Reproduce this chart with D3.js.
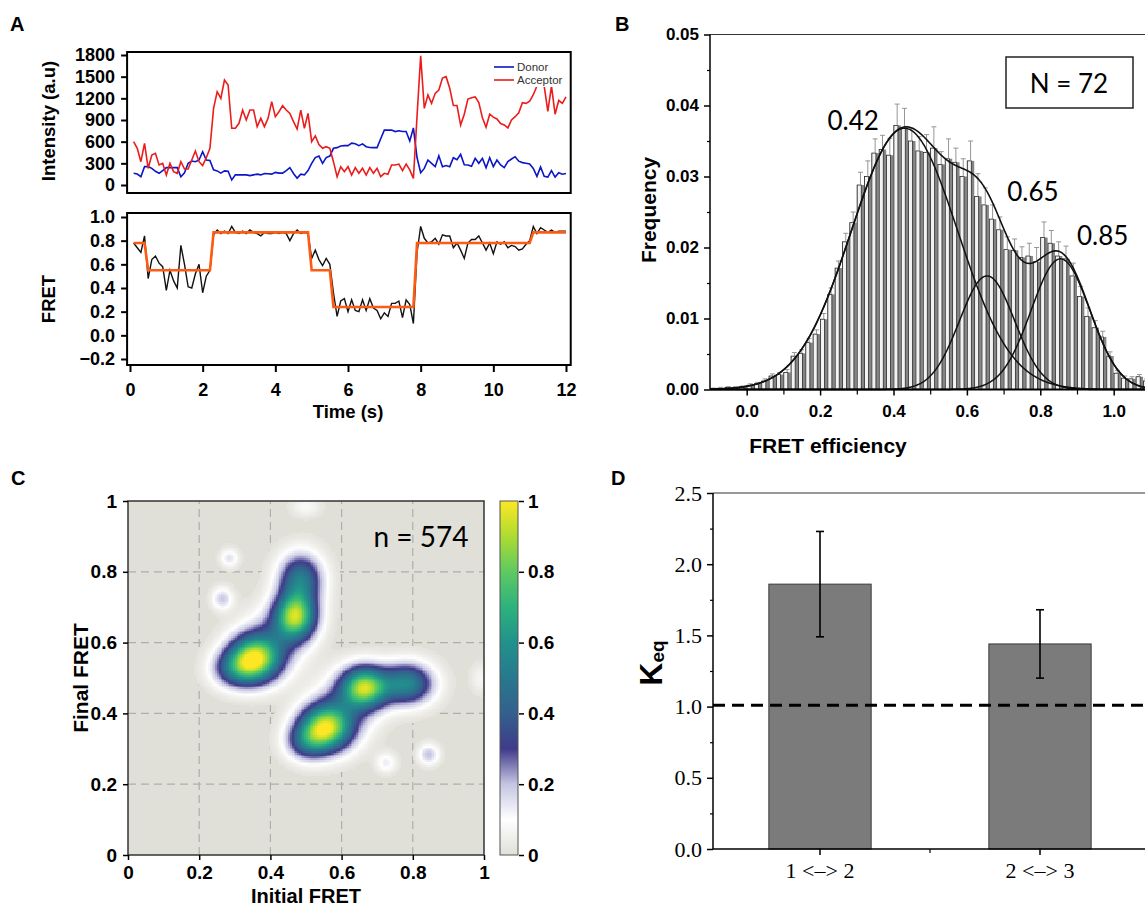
<!DOCTYPE html>
<html>
<head>
<meta charset="utf-8">
<script src="https://cdn.jsdelivr.net/npm/d3@7"></script>
<style>
  body { margin: 0; background: #fff; }
  svg { display: block; }
</style>
</head>
<body>
<svg id="fig" width="1145" height="910"></svg>
<script>
// ---------- A: single-molecule trace, 0.1 s frames
var frameTimes = d3.range(1, 121).map(function (k) { return k / 10; });
var donor = [
  162, 152, 115, 254, 254, 230, 190, 162, 200, 240,
  240, 240, 240, 115, 170, 300, 332, 323, 346, 460,
  346, 340, 210, 195, 165, 195, 190, 70, 140, 140,
  140, 140, 130, 140, 150, 140, 160, 155, 150, 175,
  165, 165, 200, 240, 160, 95, 150, 140, 200, 300,
  380, 400, 300, 380, 400, 508, 517, 540, 545, 545,
  580, 570, 545, 570, 530, 520, 517, 517, 640, 760,
  760, 760, 740, 750, 740, 740, 610, 790, 380, 170,
  230, 346, 300, 254, 406, 254, 270, 254, 378, 350,
  424, 280, 277, 260, 369, 300, 369, 240, 378, 254,
  346, 277, 240, 323, 360, 392, 330, 310, 300, 290,
  230, 120, 250, 120, 110, 200, 110, 170, 150, 160
];
var acceptor = [
  600, 508, 323, 577, 231, 415, 438, 277, 300, 138,
  300, 185, 162, 323, 221, 221, 346, 471, 323, 268,
  378, 508, 1061, 1292, 1200, 1454, 1385, 785, 785, 854,
  1038, 900, 1038, 1038, 808, 923, 808, 923, 1154, 946,
  1015, 1098, 1038, 992, 877, 775, 1038, 785, 992, 600,
  680, 560, 508, 531, 508, 323, 115, 254, 185, 254,
  138, 240, 162, 231, 138, 240, 162, 231, 115, 162,
  148, 277, 277, 290, 200, 290, 210, 92, 950, 1790,
  1061, 1246, 1131, 1269, 1315, 1480, 1500, 1340, 1100, 1100,
  830, 980, 1190, 1209, 1220, 1140, 930, 800, 980, 940,
  915, 850, 831, 790, 900, 946, 1000, 1140, 1130, 1160,
  1250, 1370, 1400, 1370, 1020, 1370, 980, 1170, 1130, 1220
];
var fret = [
  0.78, 0.74, 0.70, 0.84, 0.48, 0.64, 0.67, 0.61, 0.58, 0.38,
  0.55, 0.46, 0.40, 0.76, 0.60, 0.41, 0.40, 0.52, 0.60, 0.36,
  0.50, 0.55, 0.85, 0.89, 0.86, 0.88, 0.86, 0.92, 0.87, 0.86,
  0.88, 0.86, 0.89, 0.87, 0.86, 0.84, 0.87, 0.86, 0.86, 0.87,
  0.86, 0.87, 0.86, 0.80, 0.86, 0.89, 0.86, 0.87, 0.86, 0.65,
  0.72, 0.64, 0.59, 0.65, 0.60, 0.36, 0.16, 0.29, 0.31, 0.20,
  0.30, 0.21, 0.20, 0.30, 0.21, 0.31, 0.23, 0.21, 0.14, 0.19,
  0.16, 0.27, 0.27, 0.29, 0.15, 0.30, 0.26, 0.10, 0.70, 0.92,
  0.82, 0.78, 0.79, 0.82, 0.77, 0.85, 0.84, 0.84, 0.74, 0.78,
  0.72, 0.65, 0.78, 0.81, 0.81, 0.84, 0.78, 0.72, 0.78, 0.69,
  0.79, 0.77, 0.79, 0.74, 0.76, 0.75, 0.72, 0.73, 0.77, 0.80,
  0.92, 0.86, 0.91, 0.89, 0.87, 0.89, 0.87, 0.88, 0.88, 0.88
];
var fitTimes = [0.1, 0.4, 0.5, 2.2, 2.3, 4.9, 5.0, 5.5, 5.6, 7.8, 7.9, 11.0, 11.1, 12.0];
var fitValues = [0.78, 0.78, 0.55, 0.55, 0.87, 0.87, 0.55, 0.55, 0.24, 0.24, 0.78, 0.78, 0.87, 0.87];
var intensityTicks = [0, 300, 600, 900, 1200, 1500, 1800];
var fretTicks = [-0.2, 0, 0.2, 0.4, 0.6, 0.8, 1.0];
var timeTicks = [0, 2, 4, 6, 8, 10, 12];

// ---------- B: FRET efficiency histogram
var binStart = -0.1, binWidth = 0.02;
var histFreq = [
  0.0001, 0.0002, 0.0003, 0.0003, 0.0004, 0.0006, 0.0008, 0.0012, 0.0019, 0.0021,
  0.0024, 0.0047, 0.0051, 0.0066, 0.0078, 0.0099, 0.0134, 0.0171, 0.0208, 0.0235,
  0.0288, 0.0300, 0.0333, 0.0338, 0.0330, 0.0372, 0.0368, 0.0350, 0.0336, 0.0334,
  0.0340, 0.0317, 0.0325, 0.0320, 0.0300, 0.0322, 0.0272, 0.0260, 0.0240, 0.0225,
  0.0197, 0.0196, 0.0186, 0.0188, 0.0180, 0.0214, 0.0206, 0.0188, 0.0184, 0.0160,
  0.0131, 0.0103, 0.0087, 0.0074, 0.0047, 0.0023, 0.0016, 0.0015, 0.0018, 0.0012
];
var histErr = [
  0.0001, 0.0001, 0.0001, 0.0001, 0.0001, 0.0002, 0.0002, 0.0003, 0.0003, 0.0003,
  0.0004, 0.0005, 0.0005, 0.0006, 0.0006, 0.0008, 0.0009, 0.0010, 0.0012, 0.0015,
  0.0018, 0.0022, 0.0020, 0.0020, 0.0024, 0.0030, 0.0028, 0.0018, 0.0020, 0.0025,
  0.0030, 0.0018, 0.0028, 0.0020, 0.0025, 0.0028, 0.0032, 0.0024, 0.0020, 0.0018,
  0.0018, 0.0016, 0.0015, 0.0018, 0.0020, 0.0022, 0.0018, 0.0020, 0.0018, 0.0018,
  0.0014, 0.0012, 0.0010, 0.0008, 0.0006, 0.0004, 0.0003, 0.0003, 0.0003, 0.0003
];
var peakCenters = [0.43, 0.655, 0.855];
var peakHeights = [0.0368, 0.016, 0.0184];
var peakWidths = [0.145, 0.075, 0.08];
var peakLabels = ["0.42", "0.65", "0.85"];
var peakLabelX = [0.29, 0.78, 0.97];
var peakLabelY = [0.0365, 0.0265, 0.0203];
var freqTicks = [0, 0.01, 0.02, 0.03, 0.04, 0.05];
var effTicks = [0, 0.2, 0.4, 0.6, 0.8, 1.0];

// ---------- C: transition density plot (peaks of the smoothed map)
var tdpX   = [0.355, 0.47, 0.41, 0.485, 0.30, 0.555, 0.665, 0.61, 0.785, 0.50, 0.265, 0.285, 0.845, 0.725, 0.50, 0.99];
var tdpY   = [0.555, 0.675, 0.61, 0.78, 0.525, 0.36, 0.475, 0.42, 0.485, 0.32, 0.725, 0.84, 0.285, 0.262, 0.985, 0.50];
var tdpAmp = [0.90, 0.85, 0.20, 0.50, 0.32, 0.90, 0.85, 0.20, 0.55, 0.32, 0.19, 0.15, 0.20, 0.13, 0.08, 0.07];
var tdpSx  = [0.05, 0.04, 0.06, 0.042, 0.045, 0.05, 0.045, 0.06, 0.05, 0.04, 0.02, 0.018, 0.02, 0.02, 0.03, 0.02];
var tdpSy  = [0.045, 0.045, 0.06, 0.05, 0.035, 0.045, 0.04, 0.06, 0.04, 0.035, 0.022, 0.018, 0.02, 0.02, 0.02, 0.03];
var cbValues = [0, 0.1, 0.2, 0.3, 0.4, 0.5, 0.6, 0.7, 0.8, 0.9, 1.0];
var cbColors = ["#e0dfd8", "#ffffff", "#c5c5e2", "#403a8a", "#33608d", "#28788e", "#21918c", "#2db27d", "#5ec962", "#addc30", "#fde725"];
var tdpTicks = [0, 0.2, 0.4, 0.6, 0.8, 1];
var tdpCount = "n = 574";

// ---------- D: equilibrium constants
var keqLabels = ["1 <–> 2", "2 <–> 3"];
var keqMeans = [1.86, 1.44];
var keqLow = [1.49, 1.20];
var keqHigh = [2.23, 1.68];
var keqRef = 1.01;
var keqTicks = [0, 0.5, 1.0, 1.5, 2.0, 2.5];

var svg = d3.select("#fig");
var sans = "Arial, 'Liberation Sans', Helvetica, sans-serif";
var serif = "'Times New Roman', 'Liberation Serif', serif";
var calib = "Lato, 'Open Sans', sans-serif";

function tidyAxis(g, size, family, weight, width) {
  g.attr("font-size", size).attr("font-family", family).attr("font-weight", weight);
  g.select(".domain").remove();
  g.selectAll(".tick line").attr("stroke", "#000").attr("stroke-width", width);
  g.selectAll(".tick text").attr("fill", "#000");
}
function title(g, txt, x, y, size, rot) {
  return g.append("text")
    .attr("transform", "translate(" + x + "," + y + ")" + (rot ? " rotate(-90)" : ""))
    .attr("text-anchor", "middle").attr("font-family", sans).attr("font-weight", "bold")
    .attr("font-size", size).text(txt);
}

svg.selectAll("text.plabel")
  .data([["A", 10, 31], ["B", 615, 31], ["C", 11, 485], ["D", 611, 485]])
  .enter().append("text").attr("class", "plabel")
  .attr("x", function (d) { return d[1]; }).attr("y", function (d) { return d[2]; })
  .attr("font-family", sans).attr("font-weight", "bold").attr("font-size", 20)
  .text(function (d) { return d[0]; });

// ================= Panel A =================
var tA = d3.scaleLinear().domain([0, 12]).range([130, 566]);
var yI = d3.scaleLinear().domain([0, 1800]).range([185, 55]);
var yF = d3.scaleLinear().domain([-0.2, 1.0]).range([359, 217]);
var boxL = tA(-0.08), boxR = tA(12.13);
var gA = svg.append("g");

gA.append("g").attr("transform", "translate(" + boxL + ",0)")
  .call(d3.axisLeft(yI).tickValues(intensityTicks).tickFormat(d3.format("d")).tickSize(6).tickPadding(6))
  .call(tidyAxis, 18, sans, "bold", 2);

var lineI = d3.line()
  .x(function (d, i) { return tA(frameTimes[i]); })
  .y(function (d) { return yI(d); });
gA.append("path").datum(donor).attr("d", lineI)
  .attr("fill", "none").attr("stroke", "#0a16c8").attr("stroke-width", 1.6);
gA.append("path").datum(acceptor).attr("d", lineI)
  .attr("fill", "none").attr("stroke", "#ec1c1c").attr("stroke-width", 1.6);

// legend
var legA = gA.append("g");
legA.append("rect").attr("x", 491).attr("y", 60).attr("width", 70).attr("height", 27).attr("fill", "#fff");
[["Donor", "#0a16c8", 67], ["Acceptor", "#ec1c1c", 80]].forEach(function (d) {
  legA.append("line").attr("x1", 494).attr("x2", 514).attr("y1", d[2]).attr("y2", d[2])
    .attr("stroke", d[1]).attr("stroke-width", 1.6);
  legA.append("text").attr("x", 517).attr("y", d[2]).attr("dy", "0.35em")
    .attr("font-family", sans).attr("font-size", 11.5).attr("fill", "#333").text(d[0]);
});
gA.append("rect").attr("x", boxL).attr("y", 52).attr("width", boxR - boxL).attr("height", 141)
  .attr("fill", "none").attr("stroke", "#000").attr("stroke-width", 2);
title(gA, "Intensity (a.u)", 55, 121, 18.5, true);

// FRET trace
gA.append("g").attr("transform", "translate(" + boxL + ",0)")
  .call(d3.axisLeft(yF).tickValues(fretTicks).tickFormat(d3.format(".1f")).tickSize(6).tickPadding(6))
  .call(tidyAxis, 18, sans, "bold", 2);
gA.append("g").attr("transform", "translate(0,365)")
  .call(d3.axisBottom(tA).tickValues(timeTicks).tickSize(7).tickPadding(11))
  .call(tidyAxis, 18, sans, "bold", 2);

var lineF = d3.line()
  .x(function (d, i) { return tA(frameTimes[i]); })
  .y(function (d) { return yF(d); });
gA.append("path").datum(fret).attr("d", lineF)
  .attr("fill", "none").attr("stroke", "#111").attr("stroke-width", 1.4);
var lineFit = d3.line()
  .x(function (d, i) { return tA(fitTimes[i]); })
  .y(function (d) { return yF(d); });
gA.append("path").datum(fitValues).attr("d", lineFit)
  .attr("fill", "none").attr("stroke", "#ff5a12").attr("stroke-width", 2.6);
gA.append("rect").attr("x", boxL).attr("y", 213).attr("width", boxR - boxL).attr("height", 152)
  .attr("fill", "none").attr("stroke", "#000").attr("stroke-width", 2);
title(gA, "FRET", 55, 299, 18.5, true);
title(gA, "Time (s)", tA(6), 418, 18.5, false);

// ================= Panel B =================
var xB = d3.scaleLinear().domain([0, 1]).range([746.7, 1113.7]);
var yB = d3.scaleLinear().domain([0, 0.05]).range([389.5, 34.5]);
var gB = svg.append("g");
var bins = histFreq.map(function (f, i) {
  return { x0: binStart + i * binWidth, f: f, e: histErr[i] };
});
var bw = xB(binWidth) - xB(0);

gB.selectAll("rect.dark").data(bins).enter().append("rect")
  .attr("x", function (d) { return xB(d.x0); })
  .attr("y", function (d) { return yB(d.f); })
  .attr("width", bw)
  .attr("height", function (d) { return yB(0) - yB(d.f); })
  .attr("fill", "#858585");
gB.selectAll("rect.light").data(bins).enter().append("rect")
  .attr("x", function (d) { return xB(d.x0) + 0.4; })
  .attr("y", function (d) { return yB(d.f); })
  .attr("width", bw * 0.55)
  .attr("height", function (d) { return yB(0) - yB(d.f); })
  .attr("fill", "#f2f2f2").attr("stroke", "#2a2a2a").attr("stroke-width", 0.8);
var errG = gB.selectAll("g.err").data(bins).enter().append("g")
  .attr("stroke", "#8a8a8a").attr("stroke-width", 0.9);
errG.append("line")
  .attr("x1", function (d) { return xB(d.x0 + binWidth / 2); })
  .attr("x2", function (d) { return xB(d.x0 + binWidth / 2); })
  .attr("y1", function (d) { return yB(d.f); })
  .attr("y2", function (d) { return yB(d.f + d.e); });
errG.append("line")
  .attr("x1", function (d) { return xB(d.x0 + binWidth / 2) - 2.5; })
  .attr("x2", function (d) { return xB(d.x0 + binWidth / 2) + 2.5; })
  .attr("y1", function (d) { return yB(d.f + d.e); })
  .attr("y2", function (d) { return yB(d.f + d.e); });

// Gaussian fit components and their sum
var fitX = d3.range(-0.1, 1.101, 0.002);
function gauss(k, x) {
  var z = (x - peakCenters[k]) / peakWidths[k];
  return peakHeights[k] * Math.exp(-0.5 * z * z);
}
var curveB = d3.line().x(function (d) { return xB(d[0]); }).y(function (d) { return yB(d[1]); });
peakCenters.forEach(function (c, k) {
  gB.append("path").datum(fitX.map(function (x) { return [x, gauss(k, x)]; }))
    .attr("d", curveB).attr("fill", "none").attr("stroke", "#111").attr("stroke-width", 1.5);
});
gB.append("path").datum(fitX.map(function (x) {
    return [x, gauss(0, x) + gauss(1, x) + gauss(2, x)];
  }))
  .attr("d", curveB).attr("fill", "none").attr("stroke", "#111").attr("stroke-width", 1.6);

// axes
gB.append("line").attr("x1", xB(-0.1)).attr("x2", 1145).attr("y1", yB(0.05)).attr("y2", yB(0.05))
  .attr("stroke", "#333").attr("stroke-width", 1.2);
gB.append("line").attr("x1", xB(-0.1)).attr("x2", xB(-0.1)).attr("y1", yB(0.05)).attr("y2", yB(0))
  .attr("stroke", "#000").attr("stroke-width", 1.5);
gB.append("line").attr("x1", xB(-0.1)).attr("x2", 1145).attr("y1", yB(0)).attr("y2", yB(0))
  .attr("stroke", "#000").attr("stroke-width", 1.8);
gB.append("g").attr("transform", "translate(" + xB(-0.1) + ",0)")
  .call(d3.axisLeft(yB).tickValues(freqTicks).tickFormat(d3.format(".2f")).tickSize(6).tickPadding(5))
  .call(tidyAxis, 17, sans, "bold", 1.5);
gB.append("g").attr("transform", "translate(" + xB(-0.1) + ",0)")
  .call(d3.axisLeft(yB).tickValues([0.005, 0.015, 0.025, 0.035, 0.045]).tickFormat("").tickSize(3))
  .call(tidyAxis, 17, sans, "bold", 1.2);
gB.append("g").attr("transform", "translate(0," + yB(0) + ")")
  .call(d3.axisBottom(xB).tickValues(effTicks).tickFormat(d3.format(".1f")).tickSize(6).tickPadding(9))
  .call(tidyAxis, 17, sans, "bold", 1.5);
gB.append("g").attr("transform", "translate(0," + yB(0) + ")")
  .call(d3.axisBottom(xB).tickValues([0.1, 0.3, 0.5, 0.7, 0.9]).tickFormat("").tickSize(5))
  .call(tidyAxis, 17, sans, "bold", 1.2);

title(gB, "Frequency", 656, 210, 21, true);
title(gB, "FRET efficiency", 828, 453, 21, false);

gB.selectAll("text.peak").data(peakLabels).enter().append("text")
  .attr("x", function (d, i) { return xB(peakLabelX[i]); })
  .attr("y", function (d, i) { return yB(peakLabelY[i]); })
  .attr("text-anchor", "middle").attr("font-family", calib).attr("font-size", 26)
  .text(function (d) { return d; });
gB.append("rect").attr("x", 1006).attr("y", 57).attr("width", 127).attr("height", 51)
  .attr("fill", "#fff").attr("stroke", "#222").attr("stroke-width", 1.5);
gB.append("text").attr("x", 1069).attr("y", 93).attr("text-anchor", "middle")
  .attr("font-family", calib).attr("font-size", 26).text("N = 72");

// ================= Panel C =================
var xC = d3.scaleLinear().domain([0, 1]).range([128, 484]);
var yC = d3.scaleLinear().domain([0, 1]).range([855, 501]);
var cmap = d3.scaleLinear().domain(cbValues).range(cbColors).clamp(true);
var gC = svg.append("g");

gC.append("rect").attr("x", xC(0)).attr("y", yC(1)).attr("width", xC(1) - xC(0)).attr("height", yC(0) - yC(1))
  .attr("fill", cbColors[0]);
[0.2, 0.4, 0.6, 0.8].forEach(function (v) {
  gC.append("line").attr("x1", xC(v)).attr("x2", xC(v)).attr("y1", yC(0)).attr("y2", yC(1))
    .attr("stroke", "#aeaeaa").attr("stroke-width", 1.2).attr("stroke-dasharray", "8,5");
  gC.append("line").attr("x1", xC(0)).attr("x2", xC(1)).attr("y1", yC(v)).attr("y2", yC(v))
    .attr("stroke", "#aeaeaa").attr("stroke-width", 1.2).attr("stroke-dasharray", "8,5");
});

function tdpDensity(x, y) {
  var s = 0;
  for (var k = 0; k < tdpX.length; k++) {
    var dx = (x - tdpX[k]) / tdpSx[k], dy = (y - tdpY[k]) / tdpSy[k];
    s += tdpAmp[k] * Math.exp(-0.5 * (dx * dx + dy * dy));
  }
  return Math.min(s, 1);
}
var cellStep = 0.005;
var cells = [];
d3.range(0, 200).forEach(function (ix) {
  d3.range(0, 200).forEach(function (iy) {
    var gx = ix * cellStep, gy = iy * cellStep;
    var v = tdpDensity(gx + cellStep / 2, gy + cellStep / 2);
    if (v > 0.015) cells.push({ x: gx, y: gy, v: v });
  });
});
gC.append("g").attr("shape-rendering", "crispEdges")
  .selectAll("rect").data(cells).enter().append("rect")
  .attr("x", function (d) { return xC(d.x); })
  .attr("y", function (d) { return yC(d.y + cellStep); })
  .attr("width", xC(cellStep) - xC(0) + 0.5)
  .attr("height", yC(0) - yC(cellStep) + 0.5)
  .attr("fill", function (d) { return cmap(d.v); });

gC.append("rect").attr("x", xC(0)).attr("y", yC(1)).attr("width", xC(1) - xC(0)).attr("height", yC(0) - yC(1))
  .attr("fill", "none").attr("stroke", "#333").attr("stroke-width", 1.5);

var fmtC = function (d) { return (d === 0 || d === 1) ? String(d) : d.toFixed(1); };
gC.append("g").attr("transform", "translate(0," + yC(0) + ")")
  .call(d3.axisBottom(xC).tickValues(tdpTicks).tickFormat(fmtC).tickSize(5).tickPadding(6))
  .call(tidyAxis, 19, sans, "bold", 1.5);
gC.append("g").attr("transform", "translate(" + xC(0) + ",0)")
  .call(d3.axisLeft(yC).tickValues(tdpTicks).tickFormat(fmtC).tickSize(5).tickPadding(6))
  .call(tidyAxis, 19, sans, "bold", 1.5);
title(gC, "Initial FRET", xC(0.5), 903, 20, false);
title(gC, "Final FRET", 88, yC(0.5), 21, true);
gC.append("text").attr("x", 421).attr("y", 547).attr("text-anchor", "middle")
  .attr("font-family", calib).attr("font-size", 28).text(tdpCount);

// colorbar
var defs = svg.append("defs");
var grad = defs.append("linearGradient").attr("id", "cbar")
  .attr("x1", 0).attr("y1", 1).attr("x2", 0).attr("y2", 0);
grad.selectAll("stop").data(cbValues).enter().append("stop")
  .attr("offset", function (d) { return d; })
  .attr("stop-color", function (d, i) { return cbColors[i]; });
var yCb = d3.scaleLinear().domain([0, 1]).range([855, 501]);
gC.append("rect").attr("x", 500).attr("y", yCb(1)).attr("width", 18).attr("height", yCb(0) - yCb(1))
  .attr("fill", "url(#cbar)").attr("stroke", "#555").attr("stroke-width", 1);
gC.append("g").attr("transform", "translate(519,0)")
  .call(d3.axisRight(yCb).tickValues(tdpTicks).tickFormat(fmtC).tickSize(5).tickPadding(4))
  .call(tidyAxis, 19, sans, "bold", 1.5);

// ================= Panel D =================
var yD = d3.scaleLinear().domain([0, 2.5]).range([849, 493]);
var xD = d3.scaleBand().domain(keqLabels).range([710, 1150]).paddingInner(0.535).paddingOuter(0.2675);
var gD = svg.append("g");

gD.selectAll("rect.bar").data(keqMeans).enter().append("rect")
  .attr("x", function (d, i) { return xD(keqLabels[i]); })
  .attr("y", function (d) { return yD(d); })
  .attr("width", xD.bandwidth())
  .attr("height", function (d) { return yD(0) - yD(d); })
  .attr("fill", "#7b7b7b").attr("stroke", "#3a3a3a").attr("stroke-width", 1);

gD.append("line").attr("x1", 713).attr("x2", 1145).attr("y1", yD(keqRef)).attr("y2", yD(keqRef))
  .attr("stroke", "#000").attr("stroke-width", 3).attr("stroke-dasharray", "12,7");

keqMeans.forEach(function (m, i) {
  var cx = xD(keqLabels[i]) + xD.bandwidth() / 2;
  var eg = gD.append("g").attr("stroke", "#000").attr("stroke-width", 1.6);
  eg.append("line").attr("x1", cx).attr("x2", cx).attr("y1", yD(keqLow[i])).attr("y2", yD(keqHigh[i]));
  [keqLow[i], keqHigh[i]].forEach(function (v) {
    eg.append("line").attr("x1", cx - 4).attr("x2", cx + 4).attr("y1", yD(v)).attr("y2", yD(v));
  });
});

gD.append("line").attr("x1", 713).attr("x2", 1145).attr("y1", yD(2.5)).attr("y2", yD(2.5))
  .attr("stroke", "#333").attr("stroke-width", 1.2);
gD.append("line").attr("x1", 713).attr("x2", 713).attr("y1", yD(2.5)).attr("y2", yD(0))
  .attr("stroke", "#000").attr("stroke-width", 1.5);
gD.append("line").attr("x1", 713).attr("x2", 1145).attr("y1", yD(0)).attr("y2", yD(0))
  .attr("stroke", "#000").attr("stroke-width", 1.5);
gD.append("g").attr("transform", "translate(713,0)")
  .call(d3.axisLeft(yD).tickValues(keqTicks).tickFormat(d3.format(".1f")).tickSize(6).tickPadding(5))
  .call(tidyAxis, 22, serif, "normal", 1.5);
gD.append("g").attr("transform", "translate(713,0)")
  .call(d3.axisLeft(yD).tickValues([0.25, 0.75, 1.25, 1.75, 2.25]).tickFormat("").tickSize(3))
  .call(tidyAxis, 22, serif, "normal", 1.2);
gD.append("g").attr("transform", "translate(0," + yD(0) + ")")
  .call(d3.axisBottom(xD).tickSize(6).tickPadding(7))
  .call(tidyAxis, 22, serif, "normal", 1.5);
gD.append("line")
  .attr("x1", (xD(keqLabels[0]) + xD(keqLabels[1]) + xD.bandwidth()) / 2)
  .attr("x2", (xD(keqLabels[0]) + xD(keqLabels[1]) + xD.bandwidth()) / 2)
  .attr("y1", yD(0)).attr("y2", yD(0) + 4).attr("stroke", "#000").attr("stroke-width", 1.2);

var keqT = gD.append("text").attr("transform", "translate(662,663) rotate(-90)")
  .attr("text-anchor", "middle").attr("font-family", sans).attr("font-weight", "bold");
keqT.append("tspan").attr("font-size", 32).text("K");
keqT.append("tspan").attr("font-size", 19).attr("dy", 2).text("eq");
</script>
</body>
</html>
